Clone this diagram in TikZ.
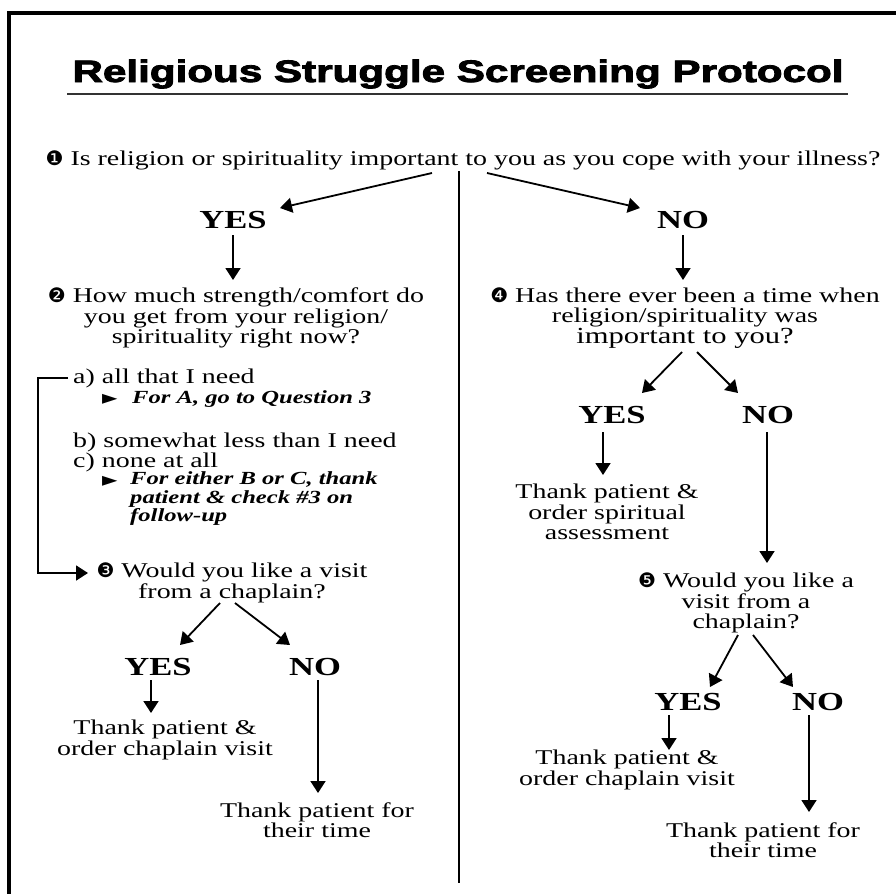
\documentclass[tikz,border=0pt]{standalone}
\usepackage{graphicx}
\usepackage{fontspec}
\setmainfont{Liberation Serif}[FakeStretch=1.33]
\newfontfamily\titlefont{Liberation Sans}[FakeBold=2.5]
\newfontfamily\dingfont{DejaVu Sans}
\usetikzlibrary{arrows.meta}

% numbered question markers and pointer glyph
\newcommand\qnum[1]{{\dingfont\fontsize{20}{20}\selectfont #1}}
\newcommand\ptr{{\dingfont\fontsize{20}{20}\selectfont ►}}

\tikzset{
  body/.style={font=\fontsize{21}{20.5}\selectfont, inner sep=0pt, align=center},
  hint/.style={font=\fontsize{18.5}{18.5}\selectfont\bfseries\itshape, inner sep=0pt, align=left},
  answer/.style={font=\fontsize{26}{26}\selectfont\bfseries, inner sep=0pt},
  arr/.style={line width=1.8pt, -{Triangle[length=12pt,width=15pt]}},
  ln/.style={line width=1.8pt},
  frame/.style={line width=4pt},
  rule/.style={line width=1.6pt, black!80},
}

\begin{document}
\begin{tikzpicture}[x=1pt,y=-1pt]
\useasboundingbox (0,0) rectangle (896,894);
\fill[white] (0,0) rectangle (896,894);

% page frame (top and left edges)
\draw[frame] (896,13) -- (9,13) -- (9,894);

% title and underline
\node[inner sep=0pt, anchor=base] (title) at (458,82)
  {\resizebox{771pt}{\height}{\titlefont\bfseries\fontsize{31}{31}\selectfont Religious Struggle Screening Protocol}};
\draw[rule] ([shift={(-5,12)}]title.base west) -- ([shift={(4,12)}]title.base east);

% question 1
\node[body] (q1) at (463,160) {\qnum{❶} Is religion or spirituality important to you as you cope with your illness?};
\node[answer] (yes1) at (233,220) {YES};
\node[answer] (no1) at (683,220) {NO};
\draw[arr] ([shift={(-31,13)}]q1.center) -- ([shift={(47,-12)}]yes1.center);
\draw[arr] ([shift={(24,13)}]q1.center) -- ([shift={(-43,-12)}]no1.center);

% centre divider
\coordinate (divend) at (459,883);
\draw[ln] ([shift={(-4,11)}]q1.center) -- (divend);

% left branch: question 2
\node[body] (q2) at (236,318) {\qnum{❷} How much strength/comfort do\\you get from your religion/\\spirituality right now?};
\draw[arr] ([shift={(0,15)}]yes1.center) -- ([shift={(-3,-38)}]q2.center);

\node[body, anchor=west] (opta) at (73,378) {a) all that I need};
\node[inner sep=0pt, anchor=west] (ptra) at (102,399) {\ptr};
\node[hint, anchor=west] (hinta) at (132,399) {For A, go to Question 3};
\node[body, anchor=west, align=left] (optbc) at (73,452.5) {b) somewhat less than I need\\c) none at all};
\node[inner sep=0pt, anchor=west] (ptrbc) at (102,481) {\ptr};
\node[hint, anchor=west] (hintbc) at (130,499) {For either B or C, thank\\patient \& check \#3 on\\follow-up};

% question 3
\node[body] (q3) at (232,583) {\qnum{❸} Would you like a visit\\from a chaplain?};
\draw[arr] ([shift={(-5,0)}]opta.west) -- ++(-30,0) |- ([shift={(-144,-10)}]q3.center);

\node[answer] (yes3) at (158,667) {YES};
\node[answer] (no3) at (315,667) {NO};
\draw[arr] ([shift={(-12,20)}]q3.center) -- ([shift={(22,-22)}]yes3.center);
\draw[arr] ([shift={(3,20)}]q3.center) -- ([shift={(-25,-22)}]no3.center);

\node[body] (t3y) at (165,740) {Thank patient \&\\order chaplain visit};
\node[body] (t3n) at (317,820) {Thank patient for\\their time};
\draw[arr] ([shift={(-7,13)}]yes3.center) -- ([shift={(-14,-27)}]t3y.center);
\draw[arr] ([shift={(3,13)}]no3.center) -- ([shift={(1,-27)}]t3n.center);

% right branch: question 4
\node[body] (q4) at (685,318) {\qnum{❹} Has there ever been a time when\\religion/spirituality was\\{\fontsize{23}{22}\selectfont important to you?}};
\draw[arr] ([shift={(0,15)}]no1.center) -- ([shift={(-2,-38)}]q4.center);

\node[answer] (yes4) at (612,415) {YES};
\node[answer] (no4) at (768,415) {NO};
\draw[arr] ([shift={(-3,34)}]q4.center) -- ([shift={(30,-22)}]yes4.center);
\draw[arr] ([shift={(12,34)}]q4.center) -- ([shift={(-30,-22)}]no4.center);

\node[body] (t4y) at (607,512) {Thank patient \&\\order spiritual\\assessment};
\draw[arr] ([shift={(-9,17)}]yes4.center) -- ([shift={(-4,-37)}]t4y.center);

% question 5
\node[body] (q5) at (746,603) {\qnum{❺} Would you like a\\visit from a\\chaplain?};
\draw[arr] ([shift={(-1,17)}]no4.center) -- ([shift={(21,-40)}]q5.center);

\node[answer] (yes5) at (688,702) {YES};
\node[answer] (no5) at (818,702) {NO};
\draw[arr] ([shift={(-8,32)}]q5.center) -- ([shift={(22,-15)}]yes5.center);
\draw[arr] ([shift={(7,32)}]q5.center) -- ([shift={(-25,-15)}]no5.center);

\node[body] (t5y) at (627,770) {Thank patient \&\\order chaplain visit};
\node[body] (t5n) at (763,840) {Thank patient for\\their time};
\draw[arr] ([shift={(-19,13)}]yes5.center) -- ([shift={(42,-20)}]t5y.center);
\draw[arr] ([shift={(-9,13)}]no5.center) -- ([shift={(46,-28)}]t5n.center);
\end{tikzpicture}
\end{document}
